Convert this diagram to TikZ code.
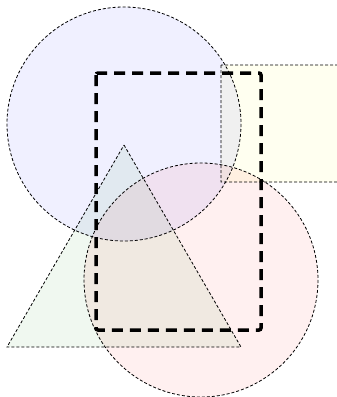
\documentclass[tikz,border=0pt]{standalone}
\usepackage{tikz}
\definecolor{shblue}{RGB}{240,240,255}
\definecolor{shyellow}{RGB}{255,255,240}
\definecolor{shgreen}{RGB}{240,248,240}
\definecolor{shred}{RGB}{255,240,240}

\begin{document}
\begin{tikzpicture}[x=1pt,y=-1pt,
  figure/.style={draw=black,line width=0.8pt,dash pattern=on 3pt off 2pt},
  frame/.style={draw=black,line width=3.5pt,dash pattern=on 11pt off 7pt,rounded corners=2pt}]
  \useasboundingbox (0,0) rectangle (337,397);
  \begin{scope}[blend group=multiply]
    \filldraw[figure,fill=shblue] (124,124) circle (117);
    \filldraw[figure,fill=shyellow] (221,65) rectangle (345,182);
    \filldraw[figure,fill=shgreen] (124,145) -- (241,347) -- (7,347) -- cycle;
    \filldraw[figure,fill=shred] (201,280) circle (117);
  \end{scope}
  \draw[frame] (96,73) rectangle (261,330);
\end{tikzpicture}
\end{document}
